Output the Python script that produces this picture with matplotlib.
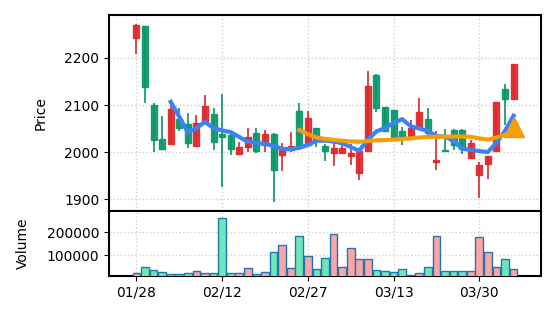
import matplotlib
matplotlib.use("Agg")
import matplotlib.pyplot as plt
from matplotlib.patches import Rectangle
import numpy as np

# === DATI ===
up = [1, 0, 0, 0, 1, 0, 0, 1, 1, 0, 0, 0, 1, 1, 0, 1, 0, 1, 1, 0, 1, 0, 0, 1, 1,
      1, 1, 1, 0, 0, 0, 0, 1, 1, 0, 1, 0, 0, 0, 1, 1, 1, 1, 0, 1]
body_top = [2269.5, 2267, 2100.7, 2027.7, 2092, 2070, 2060, 2061.7, 2098.6, 2081.6,
            2039, 2037, 2010.6, 2032, 2040, 2039, 2038, 2005, 2012, 2086.5,
            2072, 2051, 2012, 2008.5, 2008.5, 1999, 2001.4, 2141, 2164.5, 2096,
            2090, 2045, 2051, 2085, 2070, 1984, 2005, 2047.5, 2047.5, 2019,
            1972, 1991, 2106, 2134, 2187]
body_bot = [2242.6, 2137.6, 2025.5, 2005.7, 2017.5, 2051, 2019, 2012, 2063, 2021,
            2032, 2006, 1995.7, 2010, 2001.4, 2014, 1961.7, 1994, 2005, 2012,
            2015.6, 2024, 2003, 1998, 1998, 1991, 1955, 2003, 2093.6, 2044,
            2032, 2031, 2033, 2052.5, 2040, 1979.4, 2002, 2015.6, 2007, 1987,
            1952, 1974.5, 2001.4, 2112.8, 2113.5]
high = [2273, 2267, 2104, 2077, 2100, 2093.6, 2083, 2079.4, 2122, 2093.6,
        2124, 2040, 2021, 2051, 2051, 2047.5, 2040, 2019, 2042, 2104,
        2088, 2051, 2017, 2019, 2015.6, 2017, 2005, 2173, 2166.7, 2096,
        2090, 2053, 2069, 2115, 2093.6, 2044, 2049.6, 2049.6, 2049.6, 2025.5,
        1978, 1991, 2106, 2145, 2187]
low = [2208.5, 2104, 2001, 2003.5, 2017.5, 2045, 2008.5, 2010, 2060, 2005,
       1925, 1994, 1994, 2001, 1998, 2000, 1893, 1959, 2000, 2012,
       2012, 2010.6, 1982, 1969.5, 1998, 1971.6, 1941, 2003, 2084.4, 2044,
       2030, 2014, 2033, 2052.5, 2035.5, 1961, 2002, 2005, 1996, 1986,
       1902, 1942.6, 2001.4, 2058, 2113.5]
volume = [26100, 49300, 39200, 30500, 20300, 21800, 26100, 34800, 26100, 26100,
          262300, 26100, 26100, 45000, 21800, 30500, 113000, 145000, 45000, 184000,
          95700, 40600, 88400, 192800, 49300, 131900, 84100, 84100, 36300, 32000,
          27600, 40600, 17400, 23200, 49300, 184000, 34800, 34800, 34800, 34800,
          179700, 114500, 49300, 84100, 40600]
ma5 = [2107, 2075, 2042, 2051, 2064, 2051, 2046, 2042.5, 2032, 2022,
       2019.5, 2017.5, 2013, 2007, 2006, 2009, 2015, 2024, 2024.5, 2022.5,
       2019, 2010.6, 2003, 2026, 2044, 2051, 2062, 2070, 2055, 2050,
       2045, 2034, 2033, 2023.6, 2007, 2004.6, 2002, 2000, 2020, 2045, 2077]
ma20 = [2047, 2038, 2031, 2028, 2026, 2024, 2022.5, 2022, 2023.5, 2025,
        2025.5, 2026.5, 2028, 2029, 2031, 2032, 2032.5, 2033, 2033, 2033,
        2032.5, 2029, 2026.5, 2031, 2037, 2041]
signal_value = 2053
tick_pos = [0, 10, 20, 30, 40]
tick_labels = ['01/28', '02/12', '02/27', '03/13', '03/30']

RED = '#dc2626'
GREEN = '#059669'

n = len(up)
x = np.arange(n)

fig = plt.figure(figsize=(5.56, 3.22), dpi=100)
ax = fig.add_axes([0.196, 0.345, 0.777, 0.608])
axv = fig.add_axes([0.196, 0.143, 0.777, 0.202], sharex=ax)

# === CANDELE ===
w = 0.7
for i in range(n):
    c = RED if up[i] else GREEN
    ax.vlines(x[i], low[i], high[i], color=c, lw=1.2, zorder=2)
    ax.add_patch(Rectangle((x[i] - w / 2, body_bot[i]), w, body_top[i] - body_bot[i],
                           facecolor=c, edgecolor=c, alpha=0.9, lw=1, zorder=3))

ax.plot(x[4:], ma5, color='#3b82f6', lw=3, zorder=4)
ax.plot(x[19:], ma20, color='#f59e0b', lw=3, zorder=4)
ax.plot([x[-1]], [signal_value], marker='^', color='#f59e0b', markersize=15, zorder=5)

ax.set_ylim(1875, 2291)
ax.set_yticks([1900, 2000, 2100, 2200])
ax.set_ylabel('Price', labelpad=12)
ax.grid(True, linestyle=':', color='#d0d0d0', lw=1)
ax.tick_params(labelbottom=False)

# === VOLUME ===
vcol = ['#fca5a5' if u else '#6ee7b7' for u in up]
axv.bar(x, volume, width=0.9, color=vcol, edgecolor='#1f77b4', lw=1, zorder=3)
axv.set_ylim(11700, 292000)
axv.set_yticks([100000, 200000])
axv.set_ylabel('Volume', labelpad=12)
axv.grid(True, linestyle=':', color='#d0d0d0', lw=1)
axv.set_xticks(tick_pos)
axv.set_xticklabels(tick_labels)
axv.set_xlim(-3.2, 47.2)

for a in (ax, axv):
    for s in a.spines.values():
        s.set_linewidth(1.5)
    a.set_axisbelow(True)

fig.savefig('out.png', dpi=100)
